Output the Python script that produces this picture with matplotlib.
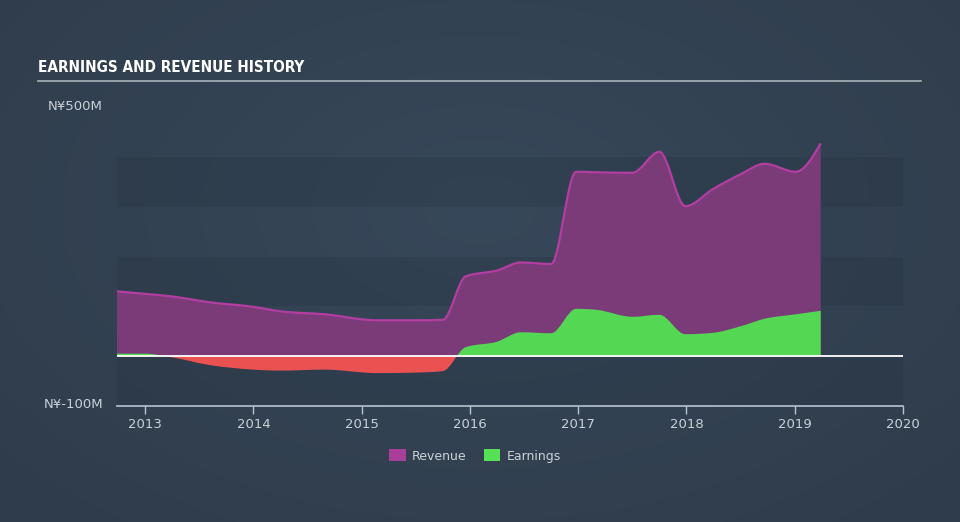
import numpy as np
import matplotlib
matplotlib.use("Agg")
import matplotlib.pyplot as plt
from matplotlib.path import Path
from matplotlib.patches import PathPatch, Rectangle, Patch

# data (decimal years, values in N¥ millions)
years = [2012.74, 2013.0, 2013.24, 2013.6, 2014.0, 2014.25, 2014.66, 2015.14, 2015.5,
         2015.75, 2015.96, 2016.25, 2016.47, 2016.75, 2016.98, 2017.17, 2017.5, 2017.75,
         2017.99, 2018.25, 2018.5, 2018.72, 2019.01, 2019.24]
revenue = [130, 125, 120, 108, 99, 90, 84, 72, 72, 73, 160, 172, 188, 185, 370, 369,
           368, 410, 301, 336, 365, 386, 370, 427]
earnings = [5, 5, -2, -18, -27, -29, -27, -34, -33, -30, 18, 29, 48, 46, 95, 93, 79,
            83, 44, 47, 60, 75, 84, 91]
year_ticks = [2013, 2014, 2015, 2016, 2017, 2018, 2019, 2020]

BG = "#334252"
TXT = "#c9d1da"


def monotone_path(x, y, close_to=None):
    # d3 curveMonotoneX style bezier path through the points
    x = np.asarray(x, float)
    y = np.asarray(y, float)
    n = len(x)
    h = np.diff(x)
    s = np.diff(y) / h
    m = np.zeros(n)
    for i in range(1, n - 1):
        p = (s[i - 1] * h[i] + s[i] * h[i - 1]) / (h[i - 1] + h[i])
        m[i] = (np.sign(s[i - 1]) + np.sign(s[i])) * min(abs(s[i - 1]), abs(s[i]), 0.5 * abs(p))
    m[0] = (3 * s[0] - m[1]) / 2
    m[-1] = (3 * s[-1] - m[-2]) / 2
    verts = [(x[0], y[0])]
    codes = [Path.MOVETO]
    for i in range(n - 1):
        d = h[i] / 3
        verts += [(x[i] + d, y[i] + m[i] * d), (x[i + 1] - d, y[i + 1] - m[i + 1] * d),
                  (x[i + 1], y[i + 1])]
        codes += [Path.CURVE4] * 3
    if close_to is not None:
        verts += [(x[-1], close_to), (x[0], close_to), (x[0], y[0])]
        codes += [Path.LINETO, Path.LINETO, Path.CLOSEPOLY]
    return Path(verts, codes)


fig = plt.figure(figsize=(9.6, 5.22), dpi=100)
fig.patch.set_facecolor(BG)

# soft radial background
bg_ax = fig.add_axes([0, 0, 1, 1])
yy, xx = np.mgrid[0:1:200j, 0:1:200j]
r = np.sqrt(((xx - 0.5) / 0.7) ** 2 + ((yy - 0.4) / 0.8) ** 2)
c0 = np.array([0x37, 0x48, 0x5a]) / 255
c1 = np.array([0x2f, 0x3c, 0x4b]) / 255
t = np.clip(r, 0, 1)[..., None]
bg_ax.imshow(c0 * (1 - t) + c1 * t, extent=[0, 1, 0, 1], aspect="auto")
bg_ax.axis("off")

ax = fig.add_axes([117 / 960, 1 - 406 / 522, (903 - 117) / 960, (406 - 107) / 522])
ax.set_facecolor("none")
ax.set_xlim(2012.74, 2020.0)
ax.set_ylim(-100, 500)

for lo in (-100, 100, 300):
    ax.axhspan(lo, lo + 100, color="#1e2a36", alpha=0.2, lw=0, zorder=0)

rev_fill = PathPatch(monotone_path(years, revenue, close_to=0), facecolor="#7b3a78",
                     edgecolor="none", zorder=2)
ax.add_patch(rev_fill)
ax.add_patch(PathPatch(monotone_path(years, revenue), facecolor="none",
                       edgecolor="#b23ea2", lw=1.6, zorder=4))

pos = PathPatch(monotone_path(years, earnings, close_to=0), facecolor="#54d854",
                edgecolor="none", zorder=3)
neg = PathPatch(monotone_path(years, earnings, close_to=0), facecolor="#ea5252",
                edgecolor="none", zorder=3)
ax.add_patch(pos)
ax.add_patch(neg)
pos.set_clip_path(Rectangle((2012, 0), 10, 600, transform=ax.transData))
neg.set_clip_path(Rectangle((2012, -200), 10, 200, transform=ax.transData))

ax.axhline(0, color="white", lw=1.3, zorder=5)

for sp in ("top", "right", "left"):
    ax.spines[sp].set_visible(False)
ax.spines["bottom"].set_color("#b8c4d0")
ax.spines["bottom"].set_linewidth(1.2)
ax.set_xticks(year_ticks)
ax.set_xticklabels([str(y) for y in year_ticks])
ax.tick_params(axis="x", colors="#b8c4d0", length=6, width=1, labelcolor=TXT,
               labelsize=9.5, pad=3)
ax.set_yticks([])

fig.text(103 / 960, 1 - 107 / 522, "N¥500M", color=TXT, fontsize=9.5, ha="right", va="center")
fig.text(103 / 960, 1 - 405 / 522, "N¥-100M", color=TXT, fontsize=9.5, ha="right", va="center")

fig.text(38 / 960, 1 - 68 / 522, "EARNINGS AND REVENUE HISTORY", color="white",
         fontsize=11, fontweight="bold", fontstretch="condensed",
         family=["DejaVu Sans"], ha="left", va="center")
fig.add_artist(plt.Line2D([38 / 960, 921 / 960], [1 - 81 / 522, 1 - 81 / 522],
                          color="#a9b3bd", lw=1.2))

handles = [Patch(facecolor="#a93d9a", label="Revenue"),
           Patch(facecolor="#56e056", label="Earnings")]
leg = fig.legend(handles=handles, loc="center", bbox_to_anchor=(475 / 960, 1 - 456 / 522),
                 ncol=2, frameon=False, fontsize=9, labelcolor=TXT, handlelength=1.3,
                 handleheight=1.1, columnspacing=1.4, handletextpad=0.5)

fig.savefig("out.png", dpi=100, facecolor=fig.get_facecolor())
